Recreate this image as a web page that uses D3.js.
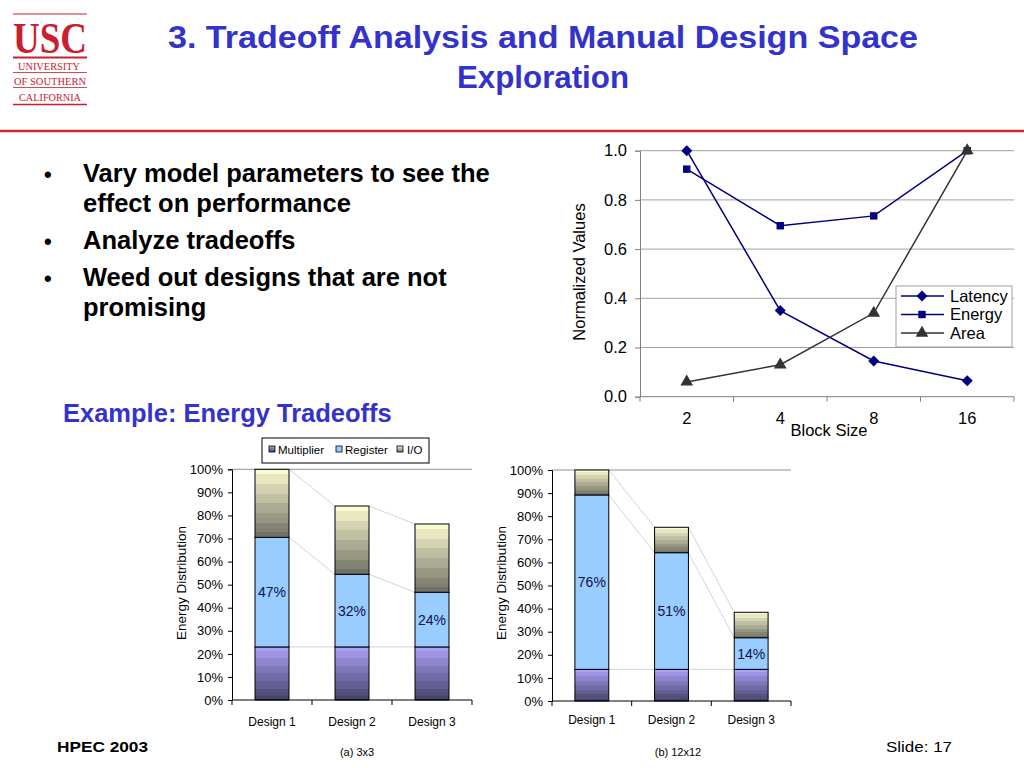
<!DOCTYPE html>
<html><head><meta charset="utf-8">
<script src="https://cdn.jsdelivr.net/npm/d3@7/dist/d3.min.js"></script>
<style>html,body{margin:0;padding:0;background:#fff;}svg{display:block;}</style>
</head><body>
<script>
// ---------- data ----------
const blockSizes = ["2", "4", "8", "16"];
const latency = [1.0, 0.35, 0.145, 0.065];
const energy  = [0.925, 0.695, 0.735, 1.0];
const area    = [0.06, 0.13, 0.34, 1.0];
const lineTicks = [0, 0.2, 0.4, 0.6, 0.8, 1.0];
const lineSeriesNames = ["Latency", "Energy", "Area"];

const designs = ["Design 1", "Design 2", "Design 3"];
const barSeriesNames = ["Multiplier", "Register", "I/O"];
const multA = [23, 23, 23];
const regA  = [47.5, 31.5, 23.7];
const ioA   = [29.5, 29.6, 29.6];
const regLabelsA = ["47%", "32%", "24%"];
const multB = [13.7, 13.7, 13.7];
const regB  = [75.5, 50.5, 13.7];
const ioB   = [10.8, 11.0, 11.0];
const regLabelsB = ["76%", "51%", "14%"];
const pctTicks = [0, 10, 20, 30, 40, 50, 60, 70, 80, 90, 100];

const bullets = [
  ["Vary model parameters to see the", "effect on performance"],
  ["Analyze tradeoffs"],
  ["Weed out designs that are not", "promising"]
];

// ---------- page ----------
const W = 1024, H = 768;
const FONT = "'Liberation Sans', Arial, Helvetica, sans-serif";
const svg = d3.select("body").append("svg").attr("width", W).attr("height", H)
  .style("font-family", FONT);
svg.append("rect").attr("width", W).attr("height", H).attr("fill", "#fff");

const defs = svg.append("defs");
function grad(id, c0, c1, bands) {
  const g = defs.append("linearGradient").attr("id", id)
    .attr("x1", 0).attr("y1", 0).attr("x2", 0).attr("y2", 1);
  const ip = d3.interpolateRgb(c0, c1);
  for (let i = 0; i < bands; i++) {
    const c = d3.color(ip(i / (bands - 1)));
    const cc = (i % 2 === 0) ? c : c.darker(0.12);
    g.append("stop").attr("offset", i / bands).attr("stop-color", cc.formatHex());
    g.append("stop").attr("offset", (i + 1) / bands).attr("stop-color", cc.formatHex());
  }
}
grad("gMult", "#aba2f7", "#4a4872", 14);
grad("gIO", "#fbfbd2", "#77776a", 14);
const fills = ["url(#gMult)", "#99ccff", "url(#gIO)"];

// ---------- logo ----------
const red = "#c8202f";
const logo = svg.append("g");
[[14, 1.2], [57.5, 2], [72.5, 0.8], [87.5, 0.8], [104.5, 1.6]].forEach(([y, w]) =>
  logo.append("line").attr("x1", 13).attr("x2", 87).attr("y1", y).attr("y2", y)
    .attr("stroke", red).attr("stroke-width", w));
logo.append("text").attr("x", 13).attr("y", 52.5).text("USC")
  .attr("font-family", "'Liberation Serif', 'Times New Roman', serif").attr("font-weight", "bold")
  .attr("font-size", 45).attr("fill", red).attr("textLength", 74).attr("lengthAdjust", "spacingAndGlyphs");
[["UNIVERSITY", 18, 62, 69.5], ["OF SOUTHERN", 14, 72, 84.5], ["CALIFORNIA", 19, 62, 101]].forEach(([t, x, w, y]) =>
  logo.append("text").attr("x", x).attr("y", y).text(t)
    .attr("font-family", "'Liberation Serif', 'Times New Roman', serif")
    .attr("font-size", 10).attr("fill", red).attr("textLength", w).attr("lengthAdjust", "spacingAndGlyphs"));

// ---------- title ----------
const blue = "#3333cc";
svg.append("text").attr("x", 543).attr("y", 48).attr("text-anchor", "middle")
  .text("3. Tradeoff Analysis and Manual Design Space")
  .attr("font-weight", "bold").attr("font-size", 31).attr("fill", blue)
  .attr("textLength", 750).attr("lengthAdjust", "spacingAndGlyphs");
svg.append("text").attr("x", 543).attr("y", 88).attr("text-anchor", "middle")
  .text("Exploration")
  .attr("font-weight", "bold").attr("font-size", 31).attr("fill", blue)
  .attr("textLength", 172).attr("lengthAdjust", "spacingAndGlyphs");
svg.append("line").attr("x1", 0).attr("x2", W).attr("y1", 131).attr("y2", 131)
  .attr("stroke", "#cc2a2a").attr("stroke-width", 2.5);

// ---------- bullets ----------
const bulletG = svg.append("g").attr("font-weight", "bold").attr("font-size", 25.5).attr("fill", "#000");
const lineYs = [[182, 212], [249], [286, 316]];
bullets.forEach((b, i) => {
  bulletG.append("text").attr("x", 44).attr("y", lineYs[i][0]).attr("font-size", 22).text("•");
  b.forEach((t, j) => bulletG.append("text").attr("x", 83).attr("y", lineYs[i][j]).text(t));
});
svg.append("text").attr("x", 63).attr("y", 422).text("Example: Energy Tradeoffs")
  .attr("font-weight", "bold").attr("font-size", 25.5).attr("fill", blue);

// ---------- line chart ----------
(function () {
  const g = svg.append("g");
  const x = d3.scaleBand().domain(blockSizes).range([640, 1014]);
  const y = d3.scaleLinear().domain([0, 1]).range([396.7, 150.7]);
  const LF = 16.5;
  // gridlines
  g.selectAll("line.grid").data(lineTicks.filter(d => d > 0)).join("line")
    .attr("x1", 640).attr("x2", 1014).attr("y1", d => y(d)).attr("y2", d => y(d))
    .attr("stroke", "#a0a0a0").attr("stroke-width", 1);
  // y axis
  const ya = d3.axisLeft(y).tickValues(lineTicks).tickFormat(d3.format(".1f")).tickSize(5).tickPadding(8);
  const yg = g.append("g").attr("transform", "translate(640,0)").call(ya);
  yg.select(".domain").attr("stroke", "#808080");
  yg.selectAll(".tick line").attr("stroke", "#808080");
  yg.selectAll("text").attr("font-size", LF).attr("font-family", FONT).attr("fill", "#000");
  // x axis
  g.append("line").attr("x1", 640).attr("x2", 1014).attr("y1", y(0)).attr("y2", y(0)).attr("stroke", "#808080");
  const bounds = blockSizes.map(d => x(d)).concat([x.range()[1]]);
  g.selectAll("line.xt").data(bounds).join("line")
    .attr("x1", d => d).attr("x2", d => d).attr("y1", y(0)).attr("y2", y(0) + 5).attr("stroke", "#808080");
  g.selectAll("text.xl").data(blockSizes).join("text")
    .attr("x", d => x(d) + x.bandwidth() / 2).attr("y", 424).attr("text-anchor", "middle")
    .attr("font-size", LF).text(d => d);
  g.append("text").attr("x", 829).attr("y", 436).attr("text-anchor", "middle")
    .attr("font-size", LF).text("Block Size");
  g.append("text").attr("transform", "translate(585,272) rotate(-90)").attr("text-anchor", "middle")
    .attr("font-size", LF).text("Normalized Values");

  const cx = d => x(d) + x.bandwidth() / 2;
  const diamond = { draw(ctx, size) { const r = Math.sqrt(size / 2); ctx.moveTo(0, -r); ctx.lineTo(r, 0); ctx.lineTo(0, r); ctx.lineTo(-r, 0); ctx.closePath(); } };
  const series = [
    { name: lineSeriesNames[0], v: latency, color: "#000080", sym: diamond, size: 60 },
    { name: lineSeriesNames[1], v: energy, color: "#000080", sym: d3.symbolSquare, size: 55 },
    { name: lineSeriesNames[2], v: area, color: "#333333", sym: d3.symbolTriangle, size: 70 }
  ];
  const line = d3.line().x((d, i) => cx(blockSizes[i])).y(d => y(d));
  series.forEach(s => {
    g.append("path").attr("d", line(s.v)).attr("fill", "none").attr("stroke", s.color).attr("stroke-width", 1.5);
    g.selectAll(null).data(s.v).join("path")
      .attr("transform", (d, i) => `translate(${cx(blockSizes[i])},${y(d)})`)
      .attr("d", d3.symbol().type(s.sym).size(s.size)).attr("fill", s.color);
  });
  // legend
  const lg = g.append("g");
  lg.append("rect").attr("x", 896).attr("y", 286).attr("width", 116).attr("height", 61)
    .attr("fill", "#fff").attr("stroke", "#a0a0a0");
  series.forEach((s, i) => {
    const yy = 296 + i * 18.5;
    lg.append("line").attr("x1", 901).attr("x2", 944).attr("y1", yy).attr("y2", yy)
      .attr("stroke", s.color).attr("stroke-width", 1.5);
    lg.append("path").attr("transform", `translate(922,${yy})`)
      .attr("d", d3.symbol().type(s.sym).size(s.size)).attr("fill", s.color);
    lg.append("text").attr("x", 950).attr("y", yy + 5.5).attr("font-size", LF).text(s.name);
  });
})();

// ---------- stacked bar charts ----------
function barChart(opt) {
  const g = svg.append("g");
  const x = d3.scaleBand().domain(designs).range([opt.x0, opt.x1]).paddingInner(0.575).paddingOuter(0.2875);
  const y = d3.scaleLinear().domain([0, 100]).range([opt.y0, opt.y100]);
  const rows = designs.map((d, i) => ({ design: d, Multiplier: opt.mult[i], Register: opt.reg[i], "I/O": opt.io[i] }));
  const stack = d3.stack().keys(barSeriesNames)(rows);

  // top line (100%)
  g.append("line").attr("x1", opt.x0).attr("x2", opt.x1).attr("y1", y(100)).attr("y2", y(100)).attr("stroke", "#909090");
  // series lines
  stack.forEach(layer => {
    for (let i = 0; i < designs.length - 1; i++) {
      g.append("line")
        .attr("x1", x(designs[i]) + x.bandwidth()).attr("y1", y(layer[i][1]))
        .attr("x2", x(designs[i + 1])).attr("y2", y(layer[i + 1][1]))
        .attr("stroke", "#c8c8c8").attr("stroke-width", 0.8);
    }
  });
  // bars
  stack.forEach((layer, k) => {
    g.selectAll(null).data(layer).join("rect")
      .attr("x", (d, i) => x(designs[i])).attr("width", x.bandwidth())
      .attr("y", d => y(d[1])).attr("height", d => y(d[0]) - y(d[1]))
      .attr("fill", fills[k]).attr("stroke", "#000").attr("stroke-width", 1);
  });
  // register labels
  stack[1].forEach((d, i) => {
    g.append("text").attr("x", x(designs[i]) + x.bandwidth() / 2).attr("y", y((d[0] + d[1]) / 2) + 5)
      .attr("text-anchor", "middle").attr("font-size", 14).attr("fill", "#10104a").text(opt.labels[i]);
  });
  // y axis
  const ya = d3.axisLeft(y).tickValues(pctTicks).tickFormat(d => d + "%").tickSize(4).tickPadding(5);
  const yg = g.append("g").attr("transform", `translate(${opt.x0},0)`).call(ya);
  yg.select(".domain").attr("stroke", "#000");
  yg.selectAll(".tick line").attr("stroke", "#000");
  yg.selectAll("text").attr("font-size", 13).attr("font-family", FONT).attr("fill", "#000");
  // x axis
  g.append("line").attr("x1", opt.x0).attr("x2", opt.x1).attr("y1", y(0)).attr("y2", y(0)).attr("stroke", "#000");
  const step = x.step();
  const bnds = [opt.x0, opt.x0 + step, opt.x0 + 2 * step, opt.x1];
  g.selectAll(null).data(bnds).join("line")
    .attr("x1", d => d).attr("x2", d => d).attr("y1", y(0)).attr("y2", y(0) + 5).attr("stroke", "#000");
  g.selectAll(null).data(designs).join("text")
    .attr("x", d => x(d) + x.bandwidth() / 2).attr("y", opt.xlabY).attr("text-anchor", "middle")
    .attr("font-size", 12).text(d => d);
  g.append("text").attr("transform", `translate(${opt.ylabX},${opt.ylabY}) rotate(-90)`).attr("text-anchor", "middle")
    .attr("font-size", 13.5).text("Energy Distribution");
  g.append("text").attr("x", opt.capX).attr("y", 756).attr("text-anchor", "middle")
    .attr("font-size", 11).text(opt.caption);
}
barChart({ x0: 232, x1: 472, y0: 700, y100: 469.3, mult: multA, reg: regA, io: ioA, labels: regLabelsA,
  xlabY: 726, ylabX: 186, ylabY: 583, capX: 357, caption: "(a) 3x3" });
barChart({ x0: 552, x1: 791, y0: 701, y100: 470, mult: multB, reg: regB, io: ioB, labels: regLabelsB,
  xlabY: 724, ylabX: 506, ylabY: 583, capX: 678, caption: "(b) 12x12" });

// bar legend
(function () {
  const lg = svg.append("g");
  lg.append("rect").attr("x", 262).attr("y", 438).attr("width", 167).attr("height", 25)
    .attr("fill", "#fff").attr("stroke", "#000");
  const items = [[269, 278], [336, 345], [397, 407]];
  barSeriesNames.forEach((n, i) => {
    lg.append("rect").attr("x", items[i][0]).attr("y", 446).attr("width", 6).attr("height", 6)
      .attr("fill", fills[i]).attr("stroke", "#000").attr("stroke-width", 0.8);
    lg.append("text").attr("x", items[i][1]).attr("y", 454).attr("font-size", 11.5).text(n);
  });
})();

// ---------- footer ----------
svg.append("text").attr("x", 57).attr("y", 752).text("HPEC 2003")
  .attr("font-weight", "bold").attr("font-size", 15).attr("textLength", 91).attr("lengthAdjust", "spacingAndGlyphs");
svg.append("text").attr("x", 886).attr("y", 752).text("Slide: 17")
  .attr("font-size", 15).attr("textLength", 66).attr("lengthAdjust", "spacingAndGlyphs");
</script>
</body></html>
